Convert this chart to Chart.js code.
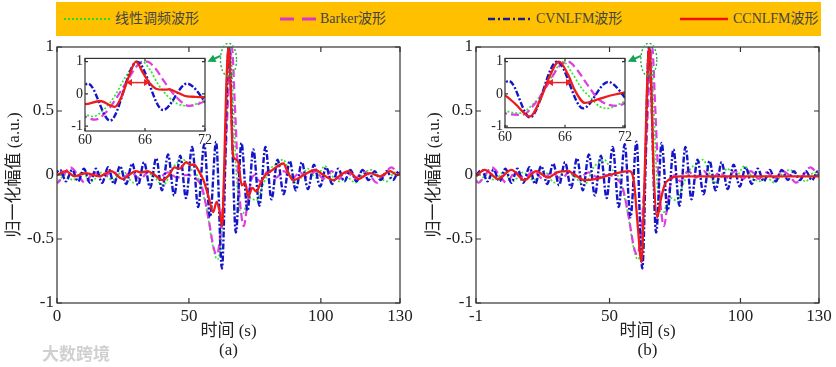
<!DOCTYPE html>
<html>
<head>
<meta charset="utf-8">
<script src="https://cdn.jsdelivr.net/npm/chart.js@4.4.1/dist/chart.umd.min.js"></script>
<style>
body{margin:0;background:#fff;width:836px;height:367px;position:relative;overflow:hidden}
canvas{position:absolute}
#legend{position:absolute;left:56px;top:2px;width:765px;height:34px;background:#ffc000;color:#444;
 font:14px "Liberation Serif","Noto Sans CJK SC",serif}
#legend svg{position:absolute;top:13px}
#legend span{position:absolute;top:0;line-height:34px;white-space:nowrap}
#wm{position:absolute;left:42px;top:340px;font:bold 17px "Noto Sans CJK SC",sans-serif;color:rgba(170,170,170,0.55)}
</style>
</head>
<body>

<div id="legend">
<svg style="left:8px" width="46" height="8"><line x1="0" y1="4" x2="46" y2="4" stroke="#22dd22" stroke-width="2" stroke-dasharray="2,2"/></svg>
<span style="left:59px">线性调频波形</span>
<svg style="left:224px" width="36" height="8"><line x1="0" y1="4" x2="36" y2="4" stroke="#dd33cc" stroke-width="3" stroke-dasharray="14,8"/></svg>
<span style="left:264px">Barker波形</span>
<svg style="left:432px" width="44" height="8"><line x1="0" y1="4" x2="44" y2="4" stroke="#1a1aa0" stroke-width="2.5" stroke-dasharray="7,3,2,3"/></svg>
<span style="left:480px">CVNLFM波形</span>
<svg style="left:624px" width="48" height="8"><line x1="0" y1="4" x2="48" y2="4" stroke="#ee1111" stroke-width="2.5"/></svg>
<span style="left:677px">CCNLFM波形</span>
</div>

<canvas id="chartA" width="418" height="367" style="left:0;top:0"></canvas>
<canvas id="chartB" width="418" height="367" style="left:418px;top:0"></canvas>
<canvas id="insetA" width="160" height="104" style="left:60px;top:48px"></canvas>
<canvas id="insetB" width="160" height="104" style="left:480px;top:48px"></canvas>
<div id="wm">大数跨境</div>

<script>
// ---- data (time s, normalised amplitude) ----
const xTicksA = [0, 50, 100, 130]
const xTicksB = [-1, 50, 100, 130]
const yTicks = [-1, -0.5, 0, 0.5, 1]
const insetXTicks = [60, 66, 72]
const insetYTicks = [-1, 0, 1]

const blueWave = [[-1,0.0],[1.2,0.04],[3.4,-0.05],[5.7,0.04],[8.0,-0.05],[10.2,0.05],[12.5,-0.06],[14.8,0.05],[17.1,-0.06],[19.4,0.06],[21.6,-0.07],[23.9,0.07],[26.2,-0.07],[28.5,0.09],[30.7,-0.08],[33.0,0.10],[35.3,-0.10],[37.6,0.13],[39.8,-0.12],[42.1,0.16],[44.4,-0.16],[46.7,0.15],[48.9,-0.18],[51.2,0.22],[53.5,-0.25],[55.8,0.24],[58.0,-0.33],[60.3,0.26],[62.5,-0.73],[65.1,1.0],[67.8,-0.45],[69.9,0.25],[72.2,-0.28],[74.4,0.2],[76.7,-0.24],[79.0,0.22],[81.3,-0.19],[83.6,0.12],[85.9,-0.15],[88.2,0.11],[90.5,-0.12],[92.8,0.10],[95.1,-0.11],[97.4,0.08],[99.7,-0.09],[102.0,0.06],[104.3,-0.07],[106.6,0.05],[108.9,-0.05],[111.2,0.04],[113.5,-0.05],[115.8,0.04],[118.1,-0.04],[120.4,0.03],[122.7,-0.04],[125.0,0.03],[127.3,-0.04],[129.6,0.03],[131,0.0]]

const greenWave = [[-1,-0.04],[0,-0.05],[3,0.0],[6,-0.04],[9.5,0.02],[13,-0.05],[17,0.02],[21,-0.04],[25,0.03],[29,-0.06],[33,0.03],[37,-0.02],[40.3,-0.08],[44,0.06],[47.9,0.12],[50.5,0.05],[53,0.0],[55,-0.12],[57,-0.30],[59,-0.55],[60.8,-0.66],[62,-0.55],[63.5,0.0],[64.5,0.6],[65.7,1.0],[66.8,0.55],[68,0.0],[69.3,-0.28],[70.3,-0.31],[71.5,-0.25],[73.5,-0.18],[75.5,-0.2],[78,-0.08],[81,0.05],[83.5,0.09],[85.7,0.12],[88,0.02],[90,-0.06],[92.5,-0.02],[95,0.05],[98,-0.02],[101.6,0.07],[104,0.0],[107,-0.05],[110,-0.02],[113,-0.06],[116,0.01],[119,0.04],[122,-0.01],[125,-0.05],[128,0.02],[131,0.0]]

const magentaWave = [[-1,-0.05],[0,-0.06],[2.5,0.0],[5,0.06],[8,0.0],[10.5,-0.06],[14,0.02],[17.5,-0.02],[21,0.03],[24.5,-0.03],[28,0.02],[31.5,-0.03],[35,0.03],[38.5,-0.02],[42,0.02],[45.5,-0.02],[49,0.0],[52,-0.02],[55,-0.1],[57.5,-0.35],[59.5,-0.58],[60.6,-0.62],[62,-0.45],[63.8,0.1],[65.2,0.75],[66.3,1.0],[67.3,0.6],[68.5,0.05],[69.8,-0.3],[70.8,-0.40],[72,-0.25],[73.5,-0.05],[75,0.0],[77,-0.05],[80,0.03],[83,-0.02],[86,0.03],[89,-0.03],[92,0.02],[95,-0.02],[98,0.03],[101,-0.03],[104,0.03],[107,-0.03],[110,0.02],[113,-0.03],[116,0.03],[118.5,0.0],[121.2,-0.06],[124,0.0],[126.7,0.06],[129,0.02],[131,-0.01]]

const redA = [[0,0.0],[3.4,0.03],[6.6,-0.01],[11,0.015],[16,-0.01],[20.5,0.03],[24.9,-0.03],[29.9,0.03],[32,0.02],[34.3,0.03],[37,0.0],[40,-0.04],[42.5,0.0],[44.5,0.06],[46.5,0.05],[49,0.10],[50.5,0.08],[52,0.08],[54,0.02],[55.5,-0.04],[57.3,-0.16],[59.2,-0.29],[60.5,-0.21],[61.5,-0.27],[62.6,-0.40],[63.3,0.0],[64.1,0.65],[65,1.0],[65.8,0.7],[66.5,0.2],[67.2,0.13],[68.7,0.10],[70,-0.08],[71.3,-0.06],[72.5,-0.17],[74,-0.10],[75.5,-0.13],[77,-0.07],[79,0.0],[81,0.03],[83.3,0.065],[85.8,0.09],[87.5,0.02],[89.6,-0.04],[93.5,0.0],[97.8,0.04],[101,0.0],[104.8,-0.04],[107.5,0.0],[110.4,0.03],[114.2,-0.03],[118.6,0.015],[122.4,-0.01],[126.2,0.03],[129,0.0],[130,0.01]]

const redB = [[-1,-0.01],[2.3,0.04],[7.5,-0.03],[12.5,0.04],[17.5,-0.04],[22,0.03],[26.5,-0.02],[30,0.02],[34.1,0.03],[37.5,-0.01],[40.5,-0.04],[45,-0.03],[50,0.0],[54,0.02],[57.5,0.03],[59.3,-0.05],[60.6,-0.35],[62.2,-0.68],[63.3,-0.1],[64.2,0.6],[65.1,1.0],[66,0.65],[66.8,0.05],[68.2,-0.33],[69.5,-0.2],[71,-0.08],[73,-0.03],[77,-0.01],[85,-0.01],[95,-0.01],[105,-0.01],[115,-0.01],[125,-0.01],[130,-0.01]]

// zoomed windows 60-72 s
const blueInsetA = [[59.5,0.1],[60.3,0.32],[62.5,-0.83],[65.2,1.0],[67.8,-0.5],[70.2,0.32],[72.3,-0.35]]
const redInsetA = [[59.5,-0.32],[60,-0.32],[61.5,-0.22],[63,-0.40],[63.7,-0.05],[64.4,0.55],[65.1,1.0],[65.8,0.65],[66.5,0.32],[67.1,0.16],[67.8,0.13],[68.4,0.14],[69.2,0.05],[70.2,-0.08],[71,-0.09],[72.5,-0.11]]
const greenInsetA = [[59.5,-0.55],[60,-0.63],[60.8,-0.7],[62,-0.45],[63,-0.05],[64,0.5],[65,0.92],[65.7,1.0],[66.5,0.75],[67.3,0.3],[68.2,-0.05],[69.2,-0.3],[70.3,-0.37],[71.2,-0.3],[72.5,-0.1]]
const magentaInsetA = [[59.5,-0.6],[60,-0.7],[61,-0.8],[62,-0.6],[63,-0.2],[64.2,0.4],[65.3,0.9],[66.2,1.0],[67,0.8],[68,0.35],[69,-0.05],[70.4,-0.37],[71.2,-0.33],[72.5,-0.15]]

const blueInsetB = [[59.5,0.2],[60.4,0.4],[62.5,-0.73],[65.2,1.0],[67.8,-0.45],[70.3,0.37],[72.5,-0.3]]
const redInsetB = [[59.5,0.0],[60,-0.05],[61,-0.3],[62.5,-0.7],[63.5,-0.2],[64.4,0.5],[65.4,1.0],[66.3,0.6],[67,0.1],[68,-0.28],[69,-0.2],[70,-0.1],[71,-0.02],[72.5,0.08]]
const greenInsetB = [[59.5,-0.45],[60,-0.52],[61.5,-0.6],[62.7,-0.35],[63.8,0.05],[64.8,0.6],[65.8,1.0],[66.7,0.65],[67.6,0.2],[68.5,-0.1],[69.5,-0.4],[70.3,-0.45],[71.2,-0.35],[72.5,-0.15]]
const magentaInsetB = [[59.5,-0.5],[60,-0.6],[61.7,-0.65],[63,-0.3],[64.3,0.3],[65.4,0.85],[66.3,1.0],[67.2,0.75],[68.2,0.3],[69.3,-0.15],[70.5,-0.35],[71.2,-0.37],[72.5,-0.2]]

// annotations: peak marker (time, amplitude) and width arrows (from, to, amplitude)
const peakMark = [65, 0.9]
const widthArrowA = [64.1, 66.5, 0.35]
const widthArrowB = [64.2, 66.7, 0.35]

const FONT = '"Liberation Serif","Noto Sans CJK SC",serif'

function pts(a){ return a.map(p=>({x:p[0], y:p[1]})) }

function series(red, blue, mag, green){
  return [
    {data:pts(red), borderColor:'#ee1b1b', borderWidth:2.3},
    {data:pts(blue), borderColor:'#1414c8', borderWidth:2.4, borderDash:[6,2,2,2]},
    {data:pts(mag), borderColor:'#e03ce0', borderWidth:2.2, borderDash:[8,4]},
    {data:pts(green), borderColor:'#2ee82e', borderWidth:1.7, borderDash:[2,2]}
  ].map(d=>Object.assign(d, {pointRadius:0, cubicInterpolationMode:'monotone', fill:false}))
}

function setTicks(list){ return s=>{ s.ticks = list.map(v=>({value:v})) } }

// box + inward ticks on all four sides
function frame(len, white){
  return {
    id:'frame',
    beforeDraw(c){
      if(!white) return
      const a = c.chartArea, ctx = c.ctx
      ctx.save(); ctx.fillStyle='#fff'
      ctx.fillRect(a.left, a.top, a.right-a.left, a.bottom-a.top)
      ctx.restore()
    },
    afterDraw(c){
      const a = c.chartArea, ctx = c.ctx, x = c.scales.x, y = c.scales.y
      ctx.save()
      ctx.strokeStyle='#333'; ctx.lineWidth=1.2
      ctx.strokeRect(a.left, a.top, a.right-a.left, a.bottom-a.top)
      ctx.beginPath()
      x.ticks.forEach(t=>{
        const px = x.getPixelForValue(t.value)
        ctx.moveTo(px, a.bottom); ctx.lineTo(px, a.bottom-len)
        ctx.moveTo(px, a.top); ctx.lineTo(px, a.top+len)
      })
      y.ticks.forEach(t=>{
        const py = y.getPixelForValue(t.value)
        ctx.moveTo(a.left, py); ctx.lineTo(a.left+len, py)
        ctx.moveTo(a.right, py); ctx.lineTo(a.right-len, py)
      })
      ctx.stroke()
      ctx.restore()
    }
  }
}

function head(ctx, x1, y1, x2, y2, size, w){
  const ang = Math.atan2(y2-y1, x2-x1)
  ctx.beginPath()
  ctx.moveTo(x2, y2)
  ctx.lineTo(x2-size*Math.cos(ang)+w*Math.sin(ang), y2-size*Math.sin(ang)-w*Math.cos(ang))
  ctx.lineTo(x2-size*Math.cos(ang)-w*Math.sin(ang), y2-size*Math.sin(ang)+w*Math.cos(ang))
  ctx.closePath()
  ctx.fill()
}

// dotted ellipse round the main peak + arrow to the zoom window
const peakMarker = {
  id:'peakMarker',
  afterDraw(c){
    const ctx = c.ctx
    const cx = c.scales.x.getPixelForValue(peakMark[0])
    const cy = c.scales.y.getPixelForValue(peakMark[1])
    ctx.save()
    ctx.strokeStyle='#22b24a'; ctx.lineWidth=1.4; ctx.setLineDash([2,2])
    ctx.beginPath(); ctx.ellipse(cx, cy, 8, 16.5, 0, 0, Math.PI*2); ctx.stroke()
    ctx.setLineDash([])
    const x1=cx-8, y1=cy-4, x2=cx-21, y2=cy+2
    ctx.strokeStyle='#11a550'; ctx.fillStyle='#11a550'; ctx.lineWidth=2
    ctx.beginPath(); ctx.moveTo(x1,y1); ctx.lineTo(x2+4,y2-1.8); ctx.stroke()
    head(ctx, x1, y1, x2, y2, 8, 4)
    ctx.restore()
  }
}

function widthArrow(arr){
  return {
    id:'widthArrow',
    afterDatasetsDraw(c){
      const ctx = c.ctx
      const xa = c.scales.x.getPixelForValue(arr[0])
      const xb = c.scales.x.getPixelForValue(arr[1])
      const py = c.scales.y.getPixelForValue(arr[2])
      ctx.save()
      ctx.strokeStyle='#ee2222'; ctx.fillStyle='#ee2222'; ctx.lineWidth=1.5
      ctx.beginPath(); ctx.moveTo(xa+4,py); ctx.lineTo(xb-4,py); ctx.stroke()
      head(ctx, xb, py, xa, py, 6, 3.5)
      head(ctx, xa, py, xb, py, 6, 3.5)
      ctx.restore()
    }
  }
}

function mainChart(id, red, xmin, xTicks, tag, padRight, axisW, yTitlePad){
  return new Chart(document.getElementById(id), {
    type:'line',
    data:{datasets:series(red, blueWave, magentaWave, greenWave)},
    options:{
      responsive:false, animation:false,
      layout:{padding:{top:47, right:padRight, left:0, bottom:0}},
      plugins:{legend:{display:false}, tooltip:{enabled:false}},
      scales:{
        x:{
          type:'linear', min:xmin, max:130,
          afterBuildTicks:setTicks(xTicks),
          afterFit:s=>{ s.height = 64 },
          grid:{display:false, drawTicks:false}, border:{display:false},
          ticks:{padding:3, color:'#222', maxRotation:0, autoSkip:false, font:{family:FONT, size:17}, callback:v=>String(v)},
          title:{display:true, text:['时间 (s)', tag], color:'#222', font:{family:FONT, size:17, lineHeight:'19px'}, padding:{top:0, bottom:6.5}}
        },
        y:{
          min:-1, max:1,
          afterBuildTicks:setTicks(yTicks),
          afterFit:s=>{ s.width = axisW },
          grid:{display:false, drawTicks:false}, border:{display:false},
          ticks:{padding:3, color:'#222', font:{family:FONT, size:17}, callback:v=>String(v)},
          title:{display:true, text:'归一化幅值 (a.u.)', color:'#222', font:{family:FONT, size:17, lineHeight:'20px'}, padding:{top:yTitlePad, bottom:0}}
        }
      }
    },
    plugins:[frame(5, false), peakMarker]
  })
}

function insetChart(id, red, blue, mag, green, ymin, xH, arrow){
  return new Chart(document.getElementById(id), {
    type:'line',
    data:{datasets:series(red, blue, mag, green)},
    options:{
      responsive:false, animation:false,
      layout:{padding:{top:9.5, right:15, left:0, bottom:0}},
      plugins:{legend:{display:false}, tooltip:{enabled:false}},
      scales:{
        x:{
          type:'linear', min:60, max:72,
          afterBuildTicks:setTicks(insetXTicks),
          afterFit:s=>{ s.height = xH },
          grid:{display:false, drawTicks:false}, border:{display:false},
          ticks:{padding:1, color:'#222', maxRotation:0, autoSkip:false, font:{family:FONT, size:14}, callback:v=>String(v)}
        },
        y:{
          min:ymin, max:1.1,
          afterBuildTicks:setTicks(insetYTicks),
          afterFit:s=>{ s.width = 25 },
          grid:{display:false, drawTicks:false}, border:{display:false},
          ticks:{padding:2, color:'#222', font:{family:FONT, size:14}, callback:v=>String(v)}
        }
      }
    },
    plugins:[frame(3, true), widthArrow(arrow)]
  })
}

mainChart('chartA', redA, 0, xTicksA, '(a)', 18, 57, 5)
mainChart('chartB', redB, -1, xTicksB, '(b)', 17, 58, 7)
insetChart('insetA', redInsetA, blueInsetA, magentaInsetA, greenInsetA, -1.15, 21, widthArrowA)
insetChart('insetB', redInsetB, blueInsetB, magentaInsetB, greenInsetB, -1.05, 24.3, widthArrowB)
</script>
</body>
</html>
